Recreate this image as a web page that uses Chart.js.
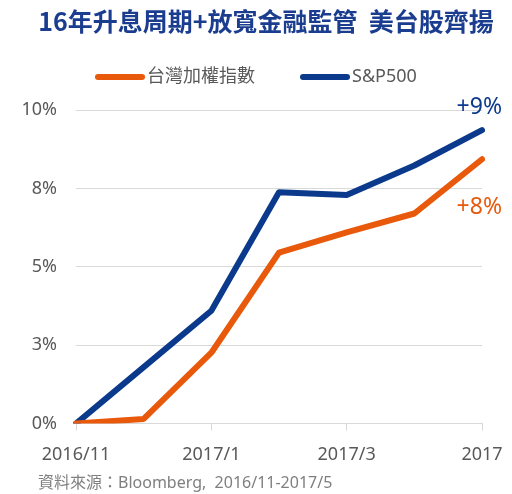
<!DOCTYPE html>
<html>
<head>
<meta charset="utf-8">
<script src="https://cdn.jsdelivr.net/npm/chart.js@4/dist/chart.umd.min.js"></script>
<style>
  html, body { margin: 0; padding: 0; background: #fff; }
  #wrap { width: 512px; height: 494px; }
</style>
</head>
<body>
<div id="wrap"><canvas id="myChart" width="512" height="494"></canvas></div>
<script>
const months = ['2016/11', '2016/12', '2017/1', '2017/2', '2017/3', '2017/4', '2017/5'];
const tickLabels = ['2016/11', '', '2017/1', '', '2017/3', '', '2017'];
const taiex = [0, 0.15, 2.26, 5.45, 6.1, 6.7, 8.43];
const sp500 = [0, 1.8, 3.6, 7.38, 7.29, 8.23, 9.36];
const seriesNames = ['台灣加權指數', 'S&P500'];
const endLabels = ['+8%', '+9%'];
const titleText = '16年升息周期+放寬金融監管  美台股齊揚';
const sourceText = '資料來源：Bloomberg,  2016/11-2017/5';

const ORANGE = '#E8590C';
const BLUE = '#0B3A8C';
const GRAY = '#595959';
const FONT = "'Noto Sans', 'Noto Sans CJK TC', sans-serif";

// title, legend, end labels and source line
const extras = {
    id: 'extras',
    afterDraw(chart) {
        const c = chart.ctx;
        c.save();
        c.textBaseline = 'middle';

        c.fillStyle = '#1B3D8F';
        c.font = "bold 25px 'Noto Sans CJK TC', sans-serif";
        c.textAlign = 'center';
        c.fillText(titleText, 266, 21);

        const legendX = [95, 300];
        c.font = '18px ' + FONT;
        c.textAlign = 'left';
        chart.data.datasets.forEach((ds, i) => {
            c.strokeStyle = ds.borderColor;
            c.lineWidth = 6;
            c.lineCap = 'round';
            c.beginPath();
            c.moveTo(legendX[i] + 3, 77);
            c.lineTo(legendX[i] + 47, 77);
            c.stroke();
            c.fillStyle = GRAY;
            c.fillText(ds.label, legendX[i] + 52, 77);
        });

        c.font = '23px ' + FONT;
        c.textAlign = 'right';
        chart.data.datasets.forEach((ds, i) => {
            const pts = chart.getDatasetMeta(i).data;
            const p = pts[pts.length - 1];
            c.fillStyle = ds.borderColor;
            const dy = i === 1 ? -23 : 48;
            c.fillText(endLabels[i], p.x + 20, p.y + dy);
        });

        c.font = '16px ' + FONT;
        c.textAlign = 'left';
        c.fillStyle = '#7F7F7F';
        c.fillText(sourceText, 38, 483);
        c.restore();
    }
};

const ctx = document.getElementById('myChart');

new Chart(ctx, {
    type: 'line',
    data: {
        labels: months,
        datasets: [{
            label: seriesNames[0],
            data: taiex,
            borderColor: ORANGE,
            backgroundColor: ORANGE,
            borderWidth: 6,
            borderCapStyle: 'round',
            borderJoinStyle: 'round',
            pointRadius: 0,
            tension: 0
        }, {
            label: seriesNames[1],
            data: sp500,
            borderColor: BLUE,
            backgroundColor: BLUE,
            borderWidth: 6,
            borderCapStyle: 'round',
            borderJoinStyle: 'round',
            pointRadius: 0,
            tension: 0
        }]
    },
    options: {
        responsive: false,
        animation: false,
        layout: {
            padding: { top: 110, left: 19, right: 30, bottom: 15 }
        },
        plugins: {
            legend: { display: false },
            title: { display: false },
            tooltip: { enabled: false }
        },
        scales: {
            x: {
                offset: false,
                grid: {
                    drawOnChartArea: false,
                    tickLength: 7,
                    tickColor: (c) => tickLabels[c.index] ? '#D9D9D9' : 'rgba(0,0,0,0)'
                },
                border: { color: '#D9D9D9', width: 1 },
                ticks: {
                    autoSkip: false,
                    maxRotation: 0,
                    padding: 8,
                    color: GRAY,
                    font: { family: FONT, size: 18, lineHeight: 1.8 },
                    callback: (v, i) => tickLabels[i]
                }
            },
            y: {
                min: 0,
                max: 10,
                afterFit: (scale) => { scale.width = 57; },
                grid: { color: '#D9D9D9', drawTicks: false },
                border: { display: false },
                ticks: {
                    stepSize: 2.5,
                    padding: 19,
                    color: GRAY,
                    font: { family: FONT, size: 18 },
                    callback: (v) => Math.round(v) + '%'
                }
            }
        }
    },
    plugins: [extras]
});
</script>
</body>
</html>
